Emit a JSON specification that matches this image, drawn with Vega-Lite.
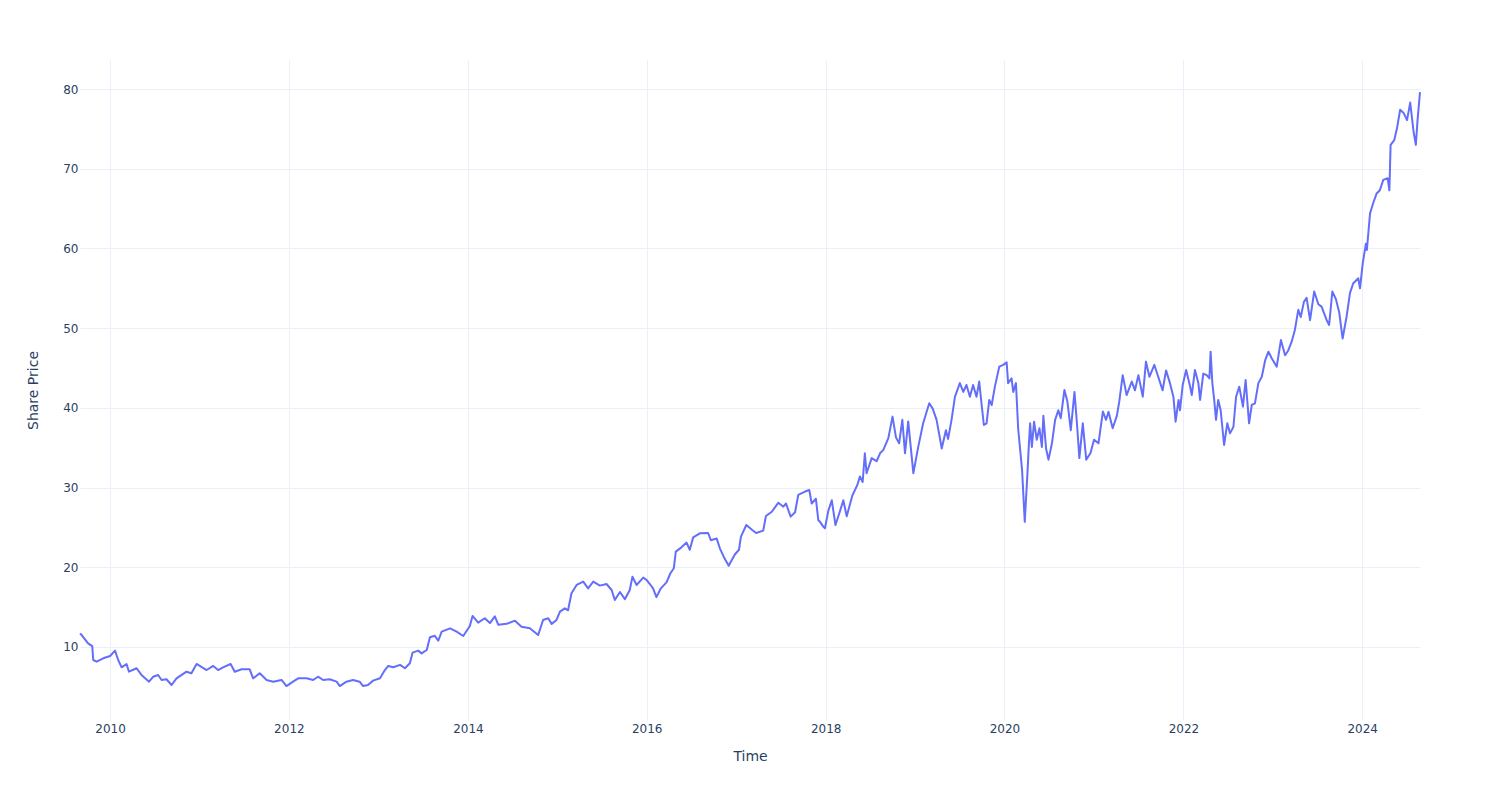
{
  "$schema": "https://vega.github.io/schema/vega-lite/v6.json",
  "width": 1340,
  "height": 660,
  "autosize": {"type": "none"},
  "padding": {"left": 80, "top": 60, "right": 80, "bottom": 80},
  "background": "white",
  "config": {"view": {"stroke": null}, "font": "DejaVu Sans"},
  "data": {"values": [
    {"date":"2009-08-31","price":11.7},{"date":"2009-09-07","price":11.5},{"date":"2009-10-03","price":10.46},{"date":"2009-10-20","price":10.1},{"date":"2009-10-24","price":8.37},{"date":"2009-11-07","price":8.16},{"date":"2009-12-04","price":8.58},{"date":"2010-01-01","price":8.87},{"date":"2010-01-21","price":9.54},{"date":"2010-02-03","price":8.37},{"date":"2010-02-17","price":7.45},{"date":"2010-03-09","price":7.87},{"date":"2010-03-19","price":6.9},{"date":"2010-04-19","price":7.33},{"date":"2010-05-09","price":6.49},{"date":"2010-06-09","price":5.65},{"date":"2010-06-26","price":6.27},{"date":"2010-07-16","price":6.49},{"date":"2010-07-30","price":5.86},{"date":"2010-08-19","price":5.95},{"date":"2010-09-09","price":5.23},{"date":"2010-09-29","price":6.07},{"date":"2010-11-09","price":6.9},{"date":"2010-11-29","price":6.7},{"date":"2010-12-20","price":7.87},
    {"date":"2011-01-30","price":7.11},{"date":"2011-02-26","price":7.62},{"date":"2011-03-18","price":7.11},{"date":"2011-04-07","price":7.45},{"date":"2011-05-08","price":7.87},{"date":"2011-05-25","price":6.9},{"date":"2011-06-22","price":7.2},{"date":"2011-07-25","price":7.2},{"date":"2011-08-08","price":6.07},{"date":"2011-09-04","price":6.7},{"date":"2011-10-02","price":5.86},{"date":"2011-10-29","price":5.65},{"date":"2011-12-02","price":5.86},{"date":"2011-12-22","price":5.1},
    {"date":"2012-01-18","price":5.65},{"date":"2012-02-08","price":6.07},{"date":"2012-03-13","price":6.07},{"date":"2012-04-09","price":5.86},{"date":"2012-04-29","price":6.27},{"date":"2012-05-20","price":5.86},{"date":"2012-06-16","price":5.95},{"date":"2012-07-14","price":5.65},{"date":"2012-07-27","price":5.1},{"date":"2012-08-23","price":5.65},{"date":"2012-09-19","price":5.86},{"date":"2012-10-16","price":5.65},{"date":"2012-10-30","price":5.1},{"date":"2012-11-19","price":5.23},{"date":"2012-12-10","price":5.78},
    {"date":"2013-01-07","price":6.07},{"date":"2013-01-27","price":7.11},{"date":"2013-02-10","price":7.62},{"date":"2013-03-02","price":7.45},{"date":"2013-03-30","price":7.75},{"date":"2013-04-19","price":7.33},{"date":"2013-05-09","price":7.95},{"date":"2013-05-20","price":9.29},{"date":"2013-06-12","price":9.54},{"date":"2013-06-26","price":9.2},{"date":"2013-07-17","price":9.62},{"date":"2013-07-30","price":11.22},{"date":"2013-08-19","price":11.4},{"date":"2013-09-02","price":10.78},{"date":"2013-09-16","price":11.92},{"date":"2013-10-20","price":12.34},{"date":"2013-11-16","price":11.92},{"date":"2013-12-13","price":11.38},
    {"date":"2014-01-09","price":12.63},{"date":"2014-01-20","price":13.89},{"date":"2014-02-12","price":13.05},{"date":"2014-03-11","price":13.6},{"date":"2014-04-01","price":13.0},{"date":"2014-04-21","price":13.85},{"date":"2014-05-05","price":12.8},{"date":"2014-06-08","price":12.9},{"date":"2014-07-12","price":13.3},{"date":"2014-08-08","price":12.55},{"date":"2014-09-11","price":12.34},{"date":"2014-10-15","price":11.5},{"date":"2014-11-04","price":13.39},{"date":"2014-11-25","price":13.6},{"date":"2014-12-09","price":12.9},{"date":"2014-12-29","price":13.39},
    {"date":"2015-01-12","price":14.43},{"date":"2015-02-01","price":14.85},{"date":"2015-02-14","price":14.6},{"date":"2015-02-28","price":16.74},{"date":"2015-03-21","price":17.78},{"date":"2015-04-17","price":18.2},{"date":"2015-05-07","price":17.36},{"date":"2015-05-28","price":18.2},{"date":"2015-06-24","price":17.7},{"date":"2015-07-21","price":17.9},{"date":"2015-08-11","price":17.15},{"date":"2015-08-24","price":15.9},{"date":"2015-09-14","price":16.9},{"date":"2015-10-04","price":16.0},{"date":"2015-10-24","price":17.15},{"date":"2015-11-04","price":18.82},{"date":"2015-11-21","price":17.78},{"date":"2015-12-18","price":18.7},
    {"date":"2016-01-01","price":18.4},{"date":"2016-01-14","price":17.9},{"date":"2016-01-27","price":17.36},{"date":"2016-02-10","price":16.25},{"date":"2016-02-28","price":17.36},{"date":"2016-03-22","price":18.1},{"date":"2016-04-07","price":19.25},{"date":"2016-04-21","price":19.88},{"date":"2016-04-29","price":21.96},{"date":"2016-05-22","price":22.5},{"date":"2016-06-12","price":23.1},{"date":"2016-06-25","price":22.2},{"date":"2016-07-09","price":23.75},{"date":"2016-08-05","price":24.26},{"date":"2016-09-08","price":24.3},{"date":"2016-09-19","price":23.4},{"date":"2016-10-13","price":23.6},{"date":"2016-10-26","price":22.38},{"date":"2016-11-11","price":21.3},{"date":"2016-12-01","price":20.2},{"date":"2016-12-26","price":21.6},
    {"date":"2017-01-12","price":22.2},{"date":"2017-01-20","price":23.84},{"date":"2017-02-11","price":25.3},{"date":"2017-03-06","price":24.7},{"date":"2017-03-23","price":24.3},{"date":"2017-04-21","price":24.6},{"date":"2017-05-02","price":26.43},{"date":"2017-05-26","price":26.97},{"date":"2017-06-22","price":28.1},{"date":"2017-07-12","price":27.6},{"date":"2017-07-23","price":28.0},{"date":"2017-08-11","price":26.35},{"date":"2017-08-29","price":26.9},{"date":"2017-09-11","price":29.07},{"date":"2017-10-09","price":29.5},{"date":"2017-10-26","price":29.7},{"date":"2017-11-05","price":28.0},{"date":"2017-11-22","price":28.6},{"date":"2017-12-02","price":25.9},{"date":"2017-12-09","price":25.7},{"date":"2017-12-22","price":25.1},{"date":"2017-12-29","price":24.9},
    {"date":"2018-01-12","price":27.1},{"date":"2018-01-26","price":28.4},{"date":"2018-02-10","price":25.3},{"date":"2018-02-28","price":27.0},{"date":"2018-03-14","price":28.4},{"date":"2018-03-28","price":26.4},{"date":"2018-04-20","price":29.0},{"date":"2018-05-10","price":30.3},{"date":"2018-05-21","price":31.4},{"date":"2018-06-01","price":30.7},{"date":"2018-06-10","price":34.3},{"date":"2018-06-17","price":31.8},{"date":"2018-07-08","price":33.7},{"date":"2018-07-28","price":33.3},{"date":"2018-08-11","price":34.3},{"date":"2018-08-24","price":34.7},{"date":"2018-09-14","price":36.2},{"date":"2018-10-01","price":38.9},{"date":"2018-10-15","price":36.3},{"date":"2018-10-28","price":35.55},{"date":"2018-11-10","price":38.5},{"date":"2018-11-21","price":34.3},{"date":"2018-12-04","price":38.3},{"date":"2018-12-25","price":31.8},
    {"date":"2019-01-14","price":35.1},{"date":"2019-02-03","price":38.06},{"date":"2019-02-28","price":40.57},{"date":"2019-03-14","price":39.9},{"date":"2019-03-30","price":38.5},{"date":"2019-04-20","price":34.9},{"date":"2019-05-07","price":37.2},{"date":"2019-05-16","price":36.1},{"date":"2019-05-30","price":38.5},{"date":"2019-06-13","price":41.4},{"date":"2019-07-03","price":43.1},{"date":"2019-07-17","price":42.0},{"date":"2019-07-30","price":42.87},{"date":"2019-08-13","price":41.4},{"date":"2019-08-26","price":42.87},{"date":"2019-09-09","price":41.4},{"date":"2019-09-20","price":43.3},{"date":"2019-09-30","price":40.36},{"date":"2019-10-09","price":37.85},{"date":"2019-10-20","price":38.06},{"date":"2019-10-31","price":41.0},{"date":"2019-11-10","price":40.36},{"date":"2019-11-23","price":42.66},{"date":"2019-12-11","price":45.17},{"date":"2019-12-27","price":45.4},
    {"date":"2020-01-10","price":45.7},{"date":"2020-01-16","price":43.1},{"date":"2020-01-30","price":43.7},{"date":"2020-02-06","price":42.0},{"date":"2020-02-17","price":43.1},{"date":"2020-02-26","price":37.44},{"date":"2020-03-13","price":32.2},{"date":"2020-03-24","price":25.7},{"date":"2020-04-04","price":31.8},{"date":"2020-04-10","price":35.55},{"date":"2020-04-15","price":38.06},{"date":"2020-04-22","price":35.1},{"date":"2020-05-01","price":38.27},{"date":"2020-05-12","price":36.0},{"date":"2020-05-23","price":37.44},{"date":"2020-06-02","price":35.1},{"date":"2020-06-08","price":39.0},{"date":"2020-06-19","price":34.9},{"date":"2020-06-29","price":33.5},{"date":"2020-07-13","price":35.55},{"date":"2020-07-26","price":38.5},{"date":"2020-08-08","price":39.7},{"date":"2020-08-18","price":38.7},{"date":"2020-09-02","price":42.24},{"date":"2020-09-14","price":40.8},{"date":"2020-09-28","price":37.2},{"date":"2020-10-13","price":42.0},{"date":"2020-10-23","price":38.1},{"date":"2020-11-02","price":33.7},{"date":"2020-11-16","price":38.06},{"date":"2020-11-30","price":33.5},{"date":"2020-12-17","price":34.3},
    {"date":"2021-01-01","price":36.0},{"date":"2021-01-19","price":35.55},{"date":"2021-02-06","price":39.53},{"date":"2021-02-19","price":38.5},{"date":"2021-03-01","price":39.5},{"date":"2021-03-18","price":37.44},{"date":"2021-04-04","price":39.0},{"date":"2021-04-14","price":40.8},{"date":"2021-04-28","price":44.1},{"date":"2021-05-14","price":41.6},{"date":"2021-06-04","price":43.3},{"date":"2021-06-17","price":42.2},{"date":"2021-07-01","price":44.1},{"date":"2021-07-19","price":41.4},{"date":"2021-08-01","price":45.8},{"date":"2021-08-15","price":43.9},{"date":"2021-09-04","price":45.4},{"date":"2021-09-20","price":43.9},{"date":"2021-10-08","price":42.2},{"date":"2021-10-22","price":44.7},{"date":"2021-11-07","price":43.1},{"date":"2021-11-21","price":41.4},{"date":"2021-11-30","price":38.27},{"date":"2021-12-12","price":41.0},{"date":"2021-12-18","price":39.7},{"date":"2021-12-29","price":42.87},
    {"date":"2022-01-12","price":44.75},{"date":"2022-01-28","price":42.7},{"date":"2022-02-04","price":41.6},{"date":"2022-02-17","price":44.75},{"date":"2022-03-03","price":43.1},{"date":"2022-03-10","price":41.0},{"date":"2022-03-23","price":44.3},{"date":"2022-04-06","price":44.1},{"date":"2022-04-17","price":43.7},{"date":"2022-04-22","price":47.05},{"date":"2022-04-29","price":43.1},{"date":"2022-05-06","price":41.2},{"date":"2022-05-14","price":38.5},{"date":"2022-05-23","price":41.0},{"date":"2022-06-02","price":39.7},{"date":"2022-06-16","price":35.34},{"date":"2022-06-29","price":38.06},{"date":"2022-07-10","price":36.8},{"date":"2022-07-24","price":37.6},{"date":"2022-08-04","price":41.4},{"date":"2022-08-17","price":42.66},{"date":"2022-09-01","price":40.15},{"date":"2022-09-12","price":43.5},{"date":"2022-09-26","price":38.06},{"date":"2022-10-07","price":40.36},{"date":"2022-10-20","price":40.57},{"date":"2022-11-03","price":43.1},{"date":"2022-11-17","price":43.9},{"date":"2022-12-01","price":46.0},{"date":"2022-12-14","price":47.05},{"date":"2022-12-28","price":46.2},
    {"date":"2023-01-17","price":45.17},{"date":"2023-02-03","price":48.5},{"date":"2023-02-20","price":46.6},{"date":"2023-03-05","price":47.2},{"date":"2023-03-19","price":48.3},{"date":"2023-04-01","price":49.77},{"date":"2023-04-15","price":52.3},{"date":"2023-04-25","price":51.4},{"date":"2023-05-08","price":53.3},{"date":"2023-05-19","price":53.8},{"date":"2023-06-02","price":51.0},{"date":"2023-06-19","price":54.6},{"date":"2023-07-06","price":53.0},{"date":"2023-07-19","price":52.7},{"date":"2023-08-09","price":51.0},{"date":"2023-08-19","price":50.4},{"date":"2023-09-01","price":54.6},{"date":"2023-09-16","price":53.6},{"date":"2023-09-29","price":52.0},{"date":"2023-10-13","price":48.7},{"date":"2023-10-29","price":51.4},{"date":"2023-11-12","price":54.4},{"date":"2023-11-25","price":55.6},{"date":"2023-12-16","price":56.25},{"date":"2023-12-23","price":55.0},
    {"date":"2024-01-03","price":58.1},{"date":"2024-01-16","price":60.6},{"date":"2024-01-20","price":59.8},{"date":"2024-02-02","price":64.4},{"date":"2024-02-15","price":65.7},{"date":"2024-02-29","price":66.9},{"date":"2024-03-13","price":67.3},{"date":"2024-03-27","price":68.6},{"date":"2024-04-14","price":68.8},{"date":"2024-04-21","price":67.3},{"date":"2024-04-26","price":73.0},{"date":"2024-05-11","price":73.6},{"date":"2024-05-22","price":75.07},{"date":"2024-06-04","price":77.4},{"date":"2024-06-18","price":77.0},{"date":"2024-07-02","price":76.1},{"date":"2024-07-15","price":78.3},{"date":"2024-07-29","price":74.6},{"date":"2024-08-07","price":73.0},{"date":"2024-08-14","price":76.1},{"date":"2024-08-24","price":79.6}
  ]},
  "mark": {"type": "line", "color": "#636efa", "strokeWidth": 2, "strokeJoin": "round"},
  "encoding": {
    "x": {
      "field": "date", "type": "temporal",
      "scale": {"type": "utc"},
      "axis": {
        "title": "Time", "format": "%Y", "formatType": "utc",
        "tickCount": {"interval": "year", "step": 2},
        "domain": false, "ticks": false, "grid": true, "gridColor": "#EBF0F8", "gridWidth": 1,
        "labelFont": "DejaVu Sans", "labelFontSize": 12, "labelColor": "#2a3f5f", "labelPadding": 3,
        "titleFont": "DejaVu Sans", "titleFontSize": 14, "titleFontWeight": "normal", "titleColor": "#2a3f5f", "titlePadding": 15
      }
    },
    "y": {
      "field": "price", "type": "quantitative",
      "scale": {"domain": [0.84, 83.64], "nice": false, "zero": false},
      "axis": {
        "title": "Share Price", "values": [10, 20, 30, 40, 50, 60, 70, 80],
        "domain": false, "ticks": false, "grid": true, "gridColor": "#EBF0F8", "gridWidth": 1,
        "labelFont": "DejaVu Sans", "labelFontSize": 12, "labelColor": "#2a3f5f", "labelPadding": 2,
        "titleFont": "DejaVu Sans", "titleFontSize": 14, "titleFontWeight": "normal", "titleColor": "#2a3f5f", "titlePadding": 22
      }
    }
  }
}
